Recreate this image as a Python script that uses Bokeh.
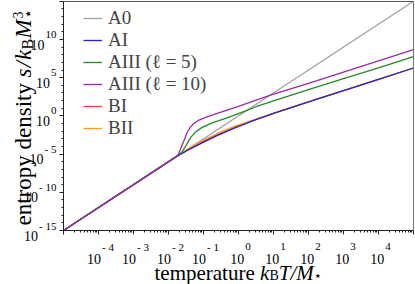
import numpy as np
from bokeh.plotting import figure
from bokeh.models import Label, Legend, LegendItem, FixedTicker, Range1d, CustomJSTickFormatter, LogAxis
from bokeh.embed import file_html
from bokeh.resources import INLINE

# ---------------- data (log10 values) ----------------
series_names = ["A0", "AI", "AIII (ℓ = 5)", "AIII (ℓ = 10)", "BI", "BII"]
series_colors = ["#a0a0a0", "#2020d8", "#228b22", "#9a2aaa", "#ff3c3c", "#ff9a20"]

log_T_A0 = [-5.0, 5.0]
log_s_A0 = [-15.0, 15.0]

log_T_AI = [-5.0, -1.8, -1.5, -1.1, -0.6, -0.1, 0.4, 1.0, 2.0, 3.0, 4.0, 5.0]
log_s_AI = [-15.0, -5.4, -4.62, -3.66, -2.56, -1.56, -0.66, 0.32, 1.84, 3.3, 4.77, 6.27]

log_T_AIII5 = [-5.0, -1.8, -1.71, -1.61, -1.51, -1.37, -1.23, -1.04, -0.75, -0.37, 0.0, 0.5, 1.0, 2.0, 3.0, 4.0, 5.0]
log_s_AIII5 = [-15.0, -5.4, -5.15, -4.67, -3.95, -2.85, -2.1, -1.5, -0.92, -0.32, 0.3, 1.2, 1.98, 3.45, 4.88, 6.3, 7.75]

log_T_AIII10 = [-5.0, -1.8, -1.72, -1.66, -1.56, -1.47, -1.38, -1.28, -1.13, -0.9, -0.5, 0.0, 0.5, 1.0, 2.0, 3.0, 4.0, 5.0]
log_s_AIII10 = [-15.0, -5.4, -5.05, -4.35, -3.25, -2.2, -1.5, -1.0, -0.55, -0.12, 0.5, 1.25, 2.05, 2.85, 4.25, 5.72, 7.19, 8.66]

log_T_BI = [-5.0, -1.8, -1.5, -1.1, -0.6, -0.1, 0.4, 1.0, 2.0, 3.0, 4.0, 5.0]
log_s_BI = [-15.0, -5.4, -4.55, -3.52, -2.42, -1.45, -0.62, 0.33, 1.84, 3.3, 4.77, 6.27]

log_T_BII = [-5.0, -1.8, -1.5, -1.1, -0.6, -0.1, 0.4, 1.0, 2.0, 3.0, 4.0, 5.0]
log_s_BII = [-15.0, -5.4, -4.5, -3.4, -2.3, -1.35, -0.58, 0.35, 1.84, 3.3, 4.77, 6.27]

x_tick_exps = [-4, -3, -2, -1, 0, 1, 2, 3, 4]
y_tick_exps = [-15, -10, -5, 0, 5, 10]

series_T = [log_T_A0, log_T_AI, log_T_AIII5, log_T_AIII10, log_T_BI, log_T_BII]
series_s = [log_s_A0, log_s_AI, log_s_AIII5, log_s_AIII10, log_s_BI, log_s_BII]
draw_order = [0, 4, 5, 1, 2, 3]   # A0, BI, BII, AI, AIII(5), AIII(10)

# ---------------- layout constants (pixels) ----------------
W, H = 415, 284
X_LO, X_HI = -5.0, 5.0          # data box, log10 T
Y_LO, Y_HI = -15.0, 15.0        # data box, log10 s
BOX_L, BOX_R = 63.0, 413.0      # data box edges on the canvas
BOX_T, BOX_B = 0.8, 230.0
px_x = (BOX_R - BOX_L) / (X_HI - X_LO)
px_y = (BOX_B - BOX_T) / (Y_HI - Y_LO)
xr = (X_LO - BOX_L / px_x, X_HI + (W - BOX_R) / px_x)
yr = (Y_LO - (H - BOX_B) / px_y, Y_HI + BOX_T / px_y)

FONT = "Liberation Serif"

p = figure(width=W, height=H, x_axis_type="log", y_axis_type="log",
           x_range=Range1d(10 ** xr[0], 10 ** xr[1]), y_range=Range1d(10 ** yr[0], 10 ** yr[1]),
           output_backend="svg", toolbar_location=None,
           min_border_left=0, min_border_right=0, min_border_top=0, min_border_bottom=0)
p.grid.visible = False
p.outline_line_color = None
p.background_fill_color = "white"

blank = CustomJSTickFormatter(code="return ''")
for ax in (p.xaxis[0], p.yaxis[0]):
    ax.formatter = blank
    ax.axis_line_color = "#222222"
    ax.major_tick_in = 0
    ax.major_tick_out = 4
    ax.minor_tick_in = 0
    ax.minor_tick_out = 2
    ax.major_tick_line_color = "#222222"
    ax.minor_tick_line_color = "#222222"

p.xaxis.fixed_location = 10.0 ** Y_LO
p.xaxis.bounds = (10.0 ** X_LO, 10.0 ** X_HI)
p.yaxis.fixed_location = 10.0 ** X_LO
p.yaxis.bounds = (10.0 ** Y_LO, 10.0 ** Y_HI)

p.xaxis.ticker = FixedTicker(ticks=[10.0 ** k for k in range(-5, 6)],
                             minor_ticks=[m * 10.0 ** k for k in range(-5, 5) for m in range(2, 10)])
p.yaxis.ticker = FixedTicker(ticks=[10.0 ** k for k in range(-15, 16, 5)],
                             minor_ticks=[10.0 ** k for k in range(-15, 16)])

# top and right edges of the box
ax_top = LogAxis(fixed_location=10.0 ** Y_HI, bounds=(10.0 ** X_LO, 10.0 ** X_HI), formatter=blank,
                 major_tick_out=0, major_tick_in=0, minor_tick_out=0, minor_tick_in=0,
                 axis_line_color="#555555")
ax_right = LogAxis(fixed_location=10.0 ** X_HI, bounds=(10.0 ** Y_LO, 10.0 ** Y_HI), formatter=blank,
                   major_tick_out=0, major_tick_in=0, minor_tick_out=0, minor_tick_in=0,
                   axis_line_color="#777777")
p.add_layout(ax_top, "above")
p.add_layout(ax_right, "right")

renderers = {}
for i in draw_order:
    renderers[i] = p.line(10.0 ** np.array(series_T[i]), 10.0 ** np.array(series_s[i]),
                          line_color=series_colors[i], line_width=1.3)

legend = Legend(items=[LegendItem(label=series_names[i], renderers=[renderers[i]])
                       for i in range(len(series_names))],
                location=(83, 145), orientation="vertical",
                label_text_font=FONT, label_text_font_size="19px", label_text_line_height=1.0,
                glyph_width=19, glyph_height=16, label_height=16, label_standoff=6,
                spacing=-7, padding=0, margin=0,
                border_line_color=None, background_fill_alpha=0)
p.add_layout(legend)


def lab(text, x, y, size, style="normal", angle=0.0, font=FONT, align="left",
        xu="screen", yu="screen", xo=0, yo=0):
    p.add_layout(Label(x=x, y=y, x_units=xu, y_units=yu, text=text, text_font=font,
                       text_font_size=f"{size}px", text_font_style=style, angle=angle,
                       text_align=align, text_baseline="alphabetic",
                       x_offset=xo, y_offset=yo, text_color="black"))


def exp_text(e):
    return f"- {abs(e)}" if e < 0 else str(e)


def tw(s, size):
    w = {"-": 0.333, " ": 0.25}
    return sum(w.get(c, 0.5) for c in s) * size


# x tick labels ("10" + exponent), baseline in screen px from the bottom
for e in x_tick_exps:
    et = exp_text(e)
    we = tw(et, 11)
    wl = 14 + 1 + we
    r10 = -wl / 2 + 14 + 2
    lab("10", 10.0 ** e, H - 258, 14, align="right", xu="data", xo=r10)
    lab(et, 10.0 ** e, H - 246, 11, xu="data", xo=r10 + 1)

# y tick labels
for e in y_tick_exps:
    et = exp_text(e)
    we = tw(et, 11)
    lab(et, 56, 10.0 ** e, 11, align="right", yu="data", yo=5)
    lab("10", 56 - we - 1, 10.0 ** e, 14, align="right", yu="data", yo=-5)

# x axis label: temperature k_B T / M_*
XB = H - 272
lab("temperature", 154, XB, 21)
lab("k", 259.6, XB, 21, style="italic")
lab("B", 268.9, XB - 3, 14)
lab("T/M", 278.2, XB, 21, style="italic")
lab("⋆", 313.2, XB - 3, 13, font="DejaVu Sans")

# y axis label: entropy density s / k_B M_*^3 (rotated, reading upwards)
A = np.pi / 2
BX = 23
lab("entropy density", BX, H - 225, 23, angle=A)
lab("s", BX, 207, 23, style="italic", angle=A)
lab("/", BX, 217, 23, style="italic", angle=A)
lab("k", BX, 224.5, 23, style="italic", angle=A)
lab("B", BX + 4, 235, 16, angle=A)
lab("M", BX, 246, 23, style="italic", angle=A)
lab("⋆", BX + 4, 266, 15, angle=A, font="DejaVu Sans")
lab("3", BX - 6, 266, 14, angle=A)

open("out.html", "w").write(file_html(p, INLINE))
